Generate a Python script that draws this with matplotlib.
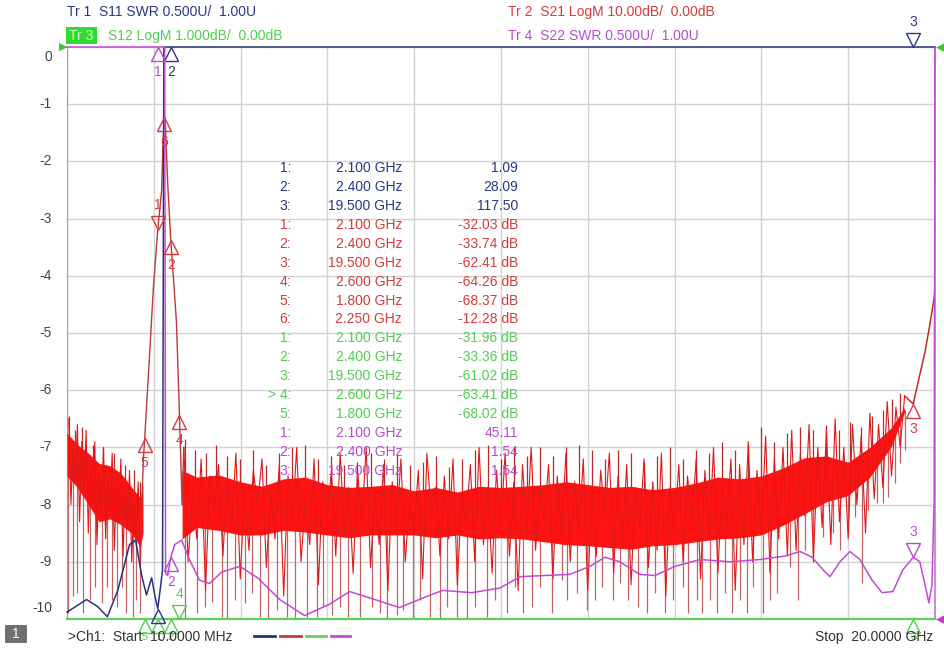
import numpy as np
import matplotlib
matplotlib.use("Agg")
import matplotlib.pyplot as plt
from matplotlib.transforms import offset_copy
from matplotlib.patches import Rectangle

plt.rcParams['font.family'] = ['Liberation Sans', 'DejaVu Sans']

W, H = 944, 649
BLUE, RED, GREEN, PURPLE = '#2a368c', '#d43c3c', '#4fcf4f', '#b84ccf'

# ── data (frequency in GHz) ──────────────────────────────────────────────────
# S11 SWR (blue), values above 6.0 are off the top of the screen
s11_f   = [0.01, 0.46, 0.71, 0.94, 1.18, 1.45, 1.59, 1.73, 1.84, 1.96, 2.03, 2.10, 2.17, 2.21, 2.24, 2.30, 2.40, 5.0, 10.0, 19.5, 20.0]
s11_swr = [1.06, 1.17, 1.11, 1.02, 1.25, 1.65, 1.69, 1.38, 1.21, 1.36, 1.21, 1.09, 1.30, 1.43, 8.0, 12.0, 28.09, 60.0, 80.0, 117.5, 120.0]

# S22 SWR (purple)
s22_f   = [0.01, 1.0, 2.10, 2.20, 2.26, 2.28, 2.33, 2.40, 2.49, 2.65, 2.83, 3.06, 3.29, 3.57, 3.99, 4.40, 4.91, 5.48,
           6.06, 6.52, 7.10, 7.67, 8.25, 8.66, 9.33, 9.98, 10.44, 11.01, 11.59, 12.05, 12.40, 12.74, 13.20, 13.55,
           14.01, 14.59, 15.28, 15.97, 16.54, 16.89, 17.17, 17.47, 17.58, 17.81, 18.04, 18.27, 18.55, 18.78, 19.03,
           19.26, 19.50, 19.65, 19.77, 19.86, 19.93, 19.98, 20.0]
s22_swr = [60.0, 55.0, 45.11, 30.0, 8.0, 1.40, 1.38, 1.54, 1.65, 1.69, 1.52, 1.34, 1.31, 1.41, 1.46, 1.36, 1.17, 1.03,
           1.13, 1.24, 1.17, 1.10, 1.19, 1.25, 1.23, 1.27, 1.37, 1.38, 1.39, 1.46, 1.54, 1.50, 1.39, 1.38,
           1.46, 1.52, 1.50, 1.52, 1.55, 1.59, 1.54, 1.41, 1.37, 1.50, 1.59, 1.52, 1.34, 1.23, 1.24,
           1.43, 1.54, 1.50, 1.30, 1.14, 1.30, 2.04, 8.0]

# S12 LogM (green), all below the -10 dB bottom line
s12_f  = [0.01, 1.8, 2.1, 2.4, 2.6, 19.5, 20.0]
s12_db = [-70.0, -68.02, -31.96, -33.36, -63.41, -61.02, -45.0]

# S21 LogM (red): solid core of the noise band
s21_left_f  = [0.01, 0.25, 0.5, 0.75, 1.0, 1.25, 1.5, 1.7, 1.76]
s21_left_hi = [-67.5, -69.5, -71.0, -72.8, -73.2, -74.5, -77.0, -78.8, -76.5]
s21_left_lo = [-75.0, -77.0, -80.0, -83.0, -82.5, -83.5, -85.0, -87.5, -85.0]

s21_mid_f  = [2.66, 3.0, 3.5, 4.0, 4.5, 5.0, 5.5, 6.0, 6.5, 7.0, 7.5, 8.0, 8.5, 9.0, 9.5, 10.0, 10.5, 11.0,
              11.5, 12.0, 12.5, 13.0, 13.5, 14.0, 14.5, 15.0, 15.5, 16.0, 16.5, 17.0, 17.5, 18.0, 18.5, 19.0, 19.3]
s21_mid_hi = [-74.0, -75.2, -74.8, -76.0, -76.8, -75.5, -75.2, -76.5, -77.0, -76.8, -76.5, -77.6, -77.0, -77.8,
              -76.8, -77.0, -76.8, -76.5, -76.0, -76.5, -77.0, -76.8, -77.4, -77.0, -76.2, -75.2, -75.5, -75.0,
              -73.6, -71.8, -71.5, -72.6, -70.0, -66.5, -63.0]
s21_mid_lo = [-86.0, -84.0, -84.5, -85.3, -85.3, -84.5, -84.8, -85.3, -85.8, -85.3, -85.3, -85.3, -85.8, -85.3,
              -86.0, -85.8, -86.0, -86.5, -87.0, -87.2, -87.5, -87.8, -87.2, -87.0, -86.5, -86.0, -85.8, -85.3,
              -83.6, -81.6, -79.5, -78.4, -75.2, -69.8, -63.8]

# S21 noise trace drawn as a line
noise_left_f  = np.round(np.arange(0.05, 1.701, 0.05), 2)
noise_left_db = [-65, -80, -70, -76, -66, -83, -69, -78, -67, -85,
                 -72, -80, -69, -87, -74, -82, -70, -86, -75, -81,
                 -71, -88, -76, -83, -72, -89, -77, -84, -74, -90,
                 -79, -86, -76, -91]
noise_mid_f  = np.round(np.arange(2.7, 19.301, 0.1), 2)
noise_mid_db = [-70, -90, -78, -86, -72, -95, -75, -81, -73, -89,
                -76, -84, -71, -93, -77, -88, -74, -80, -72, -91,
                -78, -86, -73, -96, -75, -83, -70, -90, -79, -87,
                -72, -94, -76, -82, -74, -89, -71, -85, -77, -92,
                -74, -83, -70, -91, -78, -87, -73, -95, -76, -84,
                -72, -90, -79, -85, -74, -93, -71, -82, -77, -89,
                -75, -86, -72, -94, -78, -83, -73, -90, -70, -87,
                -77, -92, -74, -84, -71, -89, -76, -95, -73, -85,
                -70, -88, -77, -83, -73, -93, -75, -86, -71, -90,
                -76, -85, -72, -95, -78, -89, -74, -82, -71, -92,
                -75, -87, -73, -94, -77, -84, -72, -91, -76, -88,
                -71, -96, -77, -85, -73, -90, -75, -83, -72, -93,
                -74, -86, -70, -92, -76, -84, -72, -95, -73, -87,
                -69, -90, -74, -85, -68, -92, -72, -86, -70, -89,
                -67, -88, -71, -82, -66, -90, -70, -84, -67, -87,
                -65, -83, -70, -86, -66, -80, -68, -85, -64, -79,
                -66, -77, -62, -75, -63, -70, -61]

s21_peak_f  = [1.70, 1.74, 1.77, 1.80, 1.91, 2.00, 2.10, 2.19, 2.22, 2.25, 2.27, 2.33, 2.40, 2.53, 2.60, 2.63, 2.66, 2.70]
s21_peak_db = [-90.0, -78.0, -72.0, -68.37, -54.0, -42.0, -32.03, -25.0, -17.0, -12.28, -12.5, -24.0, -33.74, -48.0,
               -64.26, -72.0, -80.0, -70.0]

s21_end_f  = [19.3, 19.5, 19.54, 19.65, 19.77, 19.88, 19.98, 20.0]
s21_end_db = [-61.0, -62.41, -61.0, -57.3, -53.3, -48.6, -43.9, -42.5]

# deep downward noise spikes (tip in dB)
down_f = [0.03, 0.14, 0.25, 0.37, 0.53, 0.65, 0.81, 0.92, 1.04, 1.15, 1.27, 1.38, 1.52, 1.61, 1.68,
          2.72, 3.00, 3.18, 3.36, 3.57, 3.69, 3.87, 4.10, 4.26, 4.45, 4.63, 4.84, 5.07, 5.25, 5.53, 5.76,
          5.90, 6.11, 6.29, 6.47, 6.75, 7.03, 7.21, 7.37, 7.60, 7.74, 7.97, 8.13, 8.36, 8.59, 8.76, 8.99,
          9.22, 9.40, 9.68, 9.86, 10.14, 10.32, 10.51, 10.71, 10.90, 11.18, 11.41, 11.52, 11.75, 11.98,
          12.17, 12.33, 12.58, 12.74, 12.93, 13.16, 13.36, 13.55, 13.78, 13.96, 14.19, 14.31, 14.52, 14.63,
          14.82, 14.98, 15.16, 15.32, 15.51, 15.67, 15.81, 16.04, 16.20, 16.36, 16.66, 16.84, 17.00, 17.19,
          17.42, 17.65, 17.81, 18.00, 18.16, 18.32, 18.46, 18.66, 18.80, 18.92, 19.08, 19.19, 19.31]
down_db = [-99.0, -96.0, -95.5, -99.0, -96.7, -94.4, -97.2, -94.4, -96.7, -97.9, -94.4, -99.0, -99.7, -96.7, -99.0,
           -100.0, -99.0, -97.9, -97.0, -99.7, -100.0, -96.7, -97.2, -95.5, -99.7, -100.0, -98.4, -99.7, -99.8,
           -100.0, -99.7, -97.9, -99.3, -97.9, -99.7, -99.7, -97.9, -99.0, -100.0, -99.3, -98.4, -100.0, -96.7,
           -99.7, -100.0, -97.9, -99.7, -99.8, -97.9, -99.7, -96.7, -99.0, -94.4, -99.0, -97.9, -94.4, -99.0,
           -93.2, -96.7, -95.5, -98.4, -96.7, -94.4, -96.7, -93.7, -96.7, -97.9, -99.0, -95.5, -99.0, -96.7,
           -94.4, -99.0, -96.7, -99.0, -96.7, -99.0, -95.5, -99.0, -96.7, -99.0, -94.4, -99.0, -96.7, -95.5,
           -90.9, -96.7, -87.9, -86.7, -85.7, -85.0, -87.9, -83.2, -82.2, -93.7, -80.9, -79.7, -79.7, -78.7,
           -76.2, -72.7, -70.5]

# upward noise spikes (tip in dB)
up_f  = [0.05, 0.20, 0.35, 0.60, 0.85, 1.10, 1.35, 1.55, 1.70,
         2.72, 2.95, 3.20, 3.45, 3.70, 4.00, 4.30, 4.60, 4.90, 5.20, 5.50, 5.80, 6.10, 6.40, 6.70, 7.00,
         7.30, 7.60, 7.90, 8.20, 8.50, 8.80, 9.10, 9.40, 9.70, 10.00, 10.30, 10.60, 10.90, 11.20, 11.50,
         11.80, 12.10, 12.40, 12.70, 13.00, 13.30, 13.60, 13.90, 14.20, 14.50, 14.80, 15.10, 15.40, 15.70,
         16.00, 16.30, 16.60, 16.90, 17.20, 17.50, 17.80, 18.05, 18.30, 18.55, 18.80, 19.00, 19.20]
up_db = [-64.5, -67.0, -66.5, -69.5, -70.0, -71.0, -73.0, -74.0, -76.0,
         -68.5, -70.5, -71.0, -69.5, -71.5, -72.0, -70.5, -73.0, -71.0, -70.0, -69.5, -72.0, -71.5, -73.0,
         -72.5, -71.0, -72.0, -71.0, -73.0, -72.5, -71.5, -73.5, -72.0, -70.5, -69.5, -72.0, -70.0, -71.5,
         -70.0, -71.5, -70.0, -69.5, -70.5, -72.0, -70.5, -71.0, -72.5, -71.5, -70.0, -72.0, -70.5, -71.0,
         -69.0, -70.5, -69.5, -66.5, -69.0, -67.5, -66.5, -67.0, -66.0, -67.0, -65.5, -66.5, -64.5, -63.5,
         -61.5, -60.5]

# marker table
tbl_trace = [1, 1, 1, 2, 2, 2, 2, 2, 2, 3, 3, 3, 3, 3, 4, 4, 4]
tbl_num   = ['1:', '2:', '3:', '1:', '2:', '3:', '4:', '5:', '6:', '1:', '2:', '3:', '> 4:', '5:', '1:', '2:', '3:']
tbl_freq  = ['2.100 GHz', '2.400 GHz', '19.500 GHz', '2.100 GHz', '2.400 GHz', '19.500 GHz', '2.600 GHz',
             '1.800 GHz', '2.250 GHz', '2.100 GHz', '2.400 GHz', '19.500 GHz', '2.600 GHz', '1.800 GHz',
             '2.100 GHz', '2.400 GHz', '19.500 GHz']
tbl_val   = ['1.09', '28.09', '117.50', '-32.03 dB', '-33.74 dB', '-62.41 dB', '-64.26 dB', '-68.37 dB',
             '-12.28 dB', '-31.96 dB', '-33.36 dB', '-61.02 dB', '-63.41 dB', '-68.02 dB', '45.11', '1.54', '1.54']

# ── helpers ──────────────────────────────────────────────────────────────────
def swr_div(v):
    return np.clip((np.asarray(v) - 1.0) / 0.5 - 10.0, -10.0, 0.0)

def db_div(v, per_div):
    return np.clip(np.asarray(v) / per_div, -10.0, 0.0)

def fx(x): return x / W
def fy(y): return 1 - y / H

fig = plt.figure(figsize=(W / 100, H / 100), dpi=100)
ax = fig.add_axes([fx(67), fy(619), 868 / W, 572 / H])
ax.set_xlim(0.01, 20.0)
ax.set_ylim(-10, 0)
ax.set_xticks(np.linspace(0.01, 20.0, 11))
ax.set_yticks(np.arange(-10, 1))
ax.tick_params(length=0, labelbottom=False, labelleft=False)
ax.grid(color='#d2d2d2', lw=1)
for s in ('top', 'bottom'):
    ax.spines[s].set_visible(False)
ax.spines['left'].set_color('#a0a0a0')
ax.spines['right'].set_color('#c880d8')
ax.spines['right'].set_linewidth(1.3)

# red S21
env_f = s21_left_f + s21_mid_f
env_mid = [(a + b) / 2 for a, b in zip(s21_left_hi + s21_mid_hi, s21_left_lo + s21_mid_lo)]
dbase = np.interp(down_f, env_f, env_mid)
ubase = np.interp(up_f, env_f, env_mid)
ax.vlines(down_f, db_div(dbase, 10), db_div(down_db, 10), color='#c46262', lw=0.9, zorder=2)
ax.vlines(up_f, db_div(ubase, 10), db_div(up_db, 10), color='#b82a2a', lw=0.9, zorder=2)
ax.fill_between(s21_left_f, db_div(s21_left_hi, 10), db_div(s21_left_lo, 10), color='#ff1212', lw=0, zorder=3)
ax.fill_between(s21_mid_f, db_div(s21_mid_hi, 10), db_div(s21_mid_lo, 10), color='#ff1212', lw=0, zorder=3)
ax.plot(noise_left_f, db_div(noise_left_db, 10), color='#e01818', lw=0.8, zorder=3)
ax.plot(noise_mid_f, db_div(noise_mid_db, 10), color='#e01818', lw=0.8, zorder=3)
ax.plot(s21_peak_f, db_div(s21_peak_db, 10), color='#b83a3a', lw=1.0, zorder=3)
ax.plot(s21_end_f, db_div(s21_end_db, 10), color='#c02a2a', lw=1.1, zorder=3)

# SWR traces and clamped S12
ax.plot(s11_f, swr_div(s11_swr), color='#26347e', lw=1.1, zorder=4, clip_on=False)
ax.plot(s22_f, swr_div(s22_swr), color='#c24ad2', lw=1.1, zorder=4, clip_on=False)
ax.plot(s12_f, db_div(s12_db, 1), color='#5ad35a', lw=1.6, zorder=4, clip_on=False)

# markers: triangle with its tip on the trace value
MS = 10
def marker(f, yv, color, num, up=True, gap=8, size=10):
    off = -MS / 2 if up else MS / 2
    tr = offset_copy(ax.transData, fig=fig, x=0, y=off, units='points')
    ax.plot([f], [yv], marker='^' if up else 'v', ms=MS, mfc='none', mec=color, mew=1.0,
            transform=tr, clip_on=False, zorder=6)
    loff = -(MS + gap) if up else (MS + gap)
    tl = offset_copy(ax.transData, fig=fig, x=0, y=loff, units='points')
    ax.text(f, yv, num, color=color, fontsize=size, ha='center', va='center', transform=tl,
            clip_on=False, zorder=6)

marker(2.10, -3.203, RED, '1', up=False)
marker(2.40, -3.374, RED, '2')
marker(19.5, -6.241, RED, '3')
marker(2.60, -6.426, RED, '4')
marker(1.80, -6.837, RED, '5')
marker(2.25, -1.228, RED, '6')
marker(2.40, 0.0, BLUE, '2')
marker(19.5, 0.0, BLUE, '3', up=False)
marker(2.10, 0.0, PURPLE, '1')
marker(2.40, float(swr_div(1.54)), PURPLE, '2')
marker(19.5, float(swr_div(1.54)), PURPLE, '3', up=False)
for f, n in [(1.80, '5'), (2.10, '1'), (2.40, '2'), (19.5, '3')]:
    marker(f, -10.0, GREEN, n, gap=3, size=8)
marker(2.10, float(swr_div(1.09)), BLUE, '', gap=3)
marker(2.60, -10.0, GREEN, '4', up=False)

# marker table
tcol = {1: BLUE, 2: RED, 3: GREEN, 4: PURPLE}
for i in range(len(tbl_num)):
    y = 168 + i * 18.93
    c = tcol[tbl_trace[i]]
    fig.text(fx(291), fy(y), tbl_num[i], color=c, fontsize=10, ha='right', va='center', zorder=7)
    fig.text(fx(402), fy(y), tbl_freq[i], color=c, fontsize=10, ha='right', va='center', zorder=7)
    fig.text(fx(518), fy(y), tbl_val[i], color=c, fontsize=10, ha='right', va='center', zorder=7)

# y labels
for k in range(11):
    y = 47 + k * 57.2
    if k == 0:
        y = 57
    if k == 10:
        y = 608
    fig.text(fx(52), fy(y), str(-k), color='#444444', fontsize=10, ha='right', va='center')

# header
fig.text(fx(67), fy(12), 'Tr 1  S11 SWR 0.500U/  1.00U', color=BLUE, fontsize=10, va='center')
fig.text(fx(508), fy(12), 'Tr 2  S21 LogM 10.00dB/  0.00dB', color=RED, fontsize=10, va='center')
fig.patches.append(Rectangle((fx(66), fy(44)), 31 / W, 17 / H, transform=fig.transFigure,
                             facecolor='#2fdc2f', edgecolor='none'))
fig.text(fx(69), fy(36), 'Tr 3', color='#c8ffc8', fontsize=10, va='center')
fig.text(fx(108), fy(36), 'S12 LogM 1.000dB/  0.00dB', color=GREEN, fontsize=10, va='center')
fig.text(fx(508), fy(36), 'Tr 4  S22 SWR 0.500U/  1.00U', color=PURPLE, fontsize=10, va='center')

# reference arrows at the edges
fig.text(fx(63), fy(47), '\u25b6', color='#33cc33', fontsize=8, ha='center', va='center')
fig.text(fx(941), fy(47), '\u25c0', color='#33cc33', fontsize=9, ha='center', va='center')
fig.text(fx(941), fy(619), '\u25c0', color='#cc33cc', fontsize=9, ha='center', va='center')

# footer
fig.patches.append(Rectangle((fx(5), fy(643)), 22 / W, 18 / H, transform=fig.transFigure,
                             facecolor='#707070', edgecolor='none'))
fig.text(fx(16), fy(634), '1', color='white', fontsize=10, ha='center', va='center')
fig.text(fx(68), fy(637), '>Ch1:  Start  10.0000 MHz', color='#333333', fontsize=10, va='center')
for x0, x1, c in [(254, 275, '#26347e'), (280, 301, '#c03a3a'), (306, 326, '#5ad35a'), (331, 350, '#c24ad2')]:
    fig.add_artist(plt.Line2D([fx(x0), fx(x1)], [fy(636), fy(636)], color=c, lw=2, transform=fig.transFigure))
fig.text(fx(933), fy(637), 'Stop  20.0000 GHz', color='#333333', fontsize=10, ha='right', va='center')

fig.savefig('out.png', dpi=100)
